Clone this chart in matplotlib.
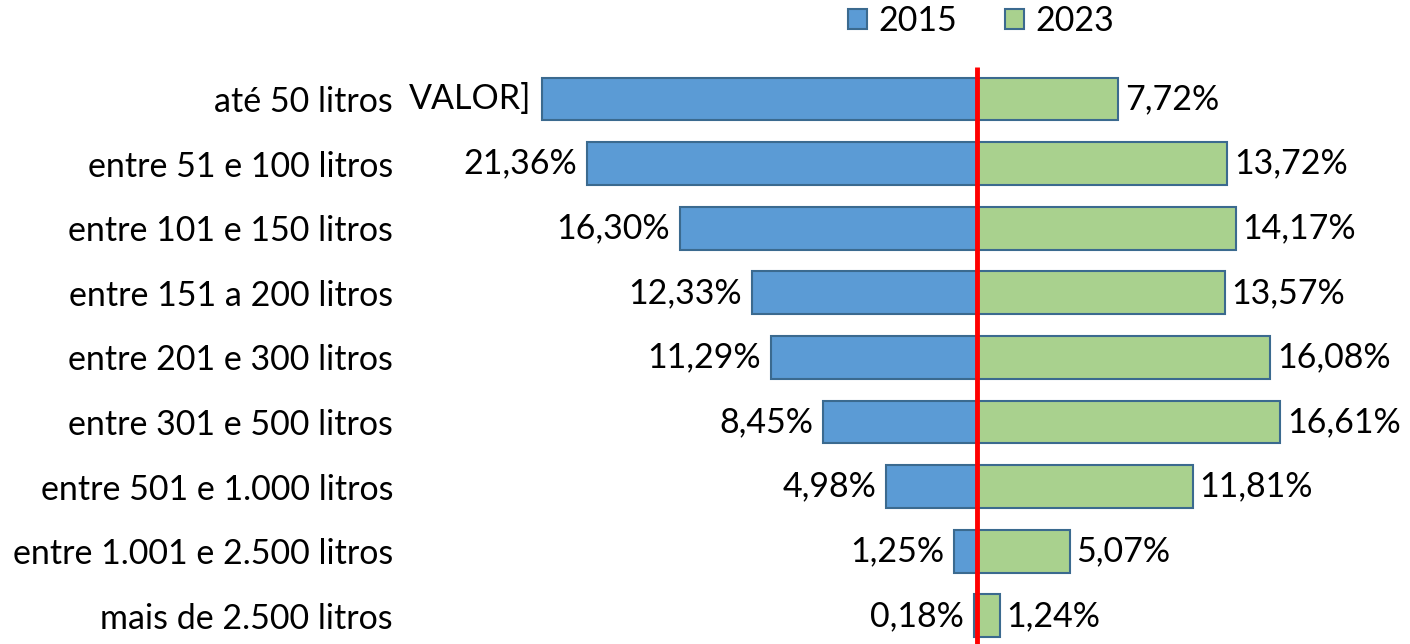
import matplotlib
matplotlib.use("Agg")
import matplotlib.pyplot as plt
from matplotlib.patches import Patch

categories = ["até 50 litros", "entre 51 e 100 litros", "entre 101 e 150 litros",
              "entre 151 a 200 litros", "entre 201 e 300 litros", "entre 301 e 500 litros",
              "entre 501 e 1.000 litros", "entre 1.001 e 2.500 litros", "mais de 2.500 litros"]
values_2015 = [23.86, 21.36, 16.30, 12.33, 11.29, 8.45, 4.98, 1.25, 0.18]
values_2023 = [7.72, 13.72, 14.17, 13.57, 16.08, 16.61, 11.81, 5.07, 1.24]
labels_2015 = ["VALOR]", "21,36%", "16,30%", "12,33%", "11,29%", "8,45%", "4,98%", "1,25%", "0,18%"]
labels_2023 = ["7,72%", "13,72%", "14,17%", "13,57%", "16,08%", "16,61%", "11,81%", "5,07%", "1,24%"]
series_names = ["2015", "2023"]

plt.rcParams['font.family'] = ['Lato', 'DejaVu Sans']
FS = 24.5

W, H = 1410, 644
fig = plt.figure(figsize=(W / 100, H / 100), dpi=100)
ax = fig.add_axes([400 / W, 0, (W - 400) / W, (H - 60) / H])

blue = "#5B9BD5"
green = "#A9D18E"
edge = "#3B6A8F"

y = list(range(len(categories)))
ax.barh(y, [-v for v in values_2015], height=0.66, color=blue, edgecolor=edge, linewidth=1.5, zorder=2)
ax.barh(y, values_2023, height=0.66, color=green, edgecolor=edge, linewidth=1.5, zorder=2)

for i in y:
    ax.annotate(labels_2015[i], xy=(-values_2015[i], i), xytext=(-7, 0), textcoords="offset points",
                ha="right", va="center", fontsize=FS, color="black")
    ax.annotate(labels_2023[i], xy=(values_2023[i], i), xytext=(5, 0), textcoords="offset points",
                ha="left", va="center", fontsize=FS, color="black")

ax.plot([0, 0], [-0.495, 8.45], color="#FF0000", linewidth=3.5, zorder=3, solid_capstyle="butt")

ax.set_xlim(-(977 - 400) / 18.25, (1410 - 977) / 18.25)
ax.set_ylim((644 - 99) / 64.6, (60 - 99) / 64.6)
ax.set_yticks(y)
ax.set_yticklabels(categories, fontsize=FS)
ax.tick_params(axis="y", length=0, pad=5)
ax.set_xticks([])
for s in ax.spines.values():
    s.set_visible(False)

handles = [Patch(facecolor=blue, edgecolor=edge, linewidth=1.5),
           Patch(facecolor=green, edgecolor=edge, linewidth=1.5)]
fig.legend(handles, series_names, loc="center", bbox_to_anchor=(981 / W, 1 - 21 / H), ncol=2,
           frameon=False, fontsize=FS, handlelength=0.55, handleheight=0.55,
           handletextpad=0.35, columnspacing=1.4, borderpad=0, borderaxespad=0)

fig.savefig("out.png", dpi=100)
